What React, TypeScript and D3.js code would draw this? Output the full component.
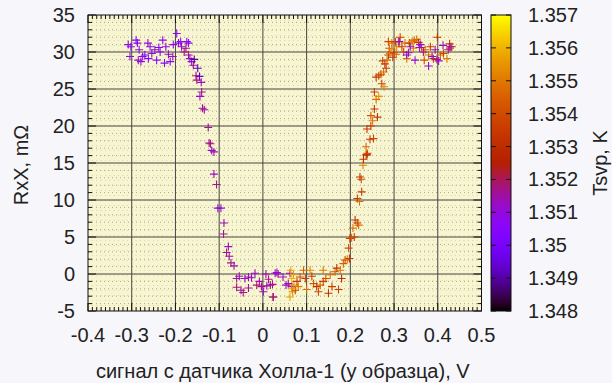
import React from "react";
import * as d3 from "d3";

const W = 612;
const H = 383;

// Each point: [hall sensor signal (V), RxX (mΩ), Tsvp (K)]
const downSweep: [number, number, number][] = [
  [-0.308, 31.0, 1.3508], [-0.302, 30.7, 1.3506], [-0.304, 29.4, 1.3510], [-0.29, 31.6, 1.3504],
  [-0.287, 31.2, 1.3507], [-0.283, 30.3, 1.3510], [-0.285, 28.9, 1.3512], [-0.279, 28.7, 1.3509],
  [-0.275, 29.4, 1.3506], [-0.27, 29.6, 1.3504], [-0.263, 31.2, 1.3511], [-0.258, 30.7, 1.3507],
  [-0.262, 29.1, 1.3505], [-0.254, 29.8, 1.3508], [-0.247, 30.3, 1.3512], [-0.243, 28.9, 1.3506],
  [-0.238, 30.6, 1.3503], [-0.235, 30.0, 1.3509], [-0.229, 31.6, 1.3507], [-0.225, 28.5, 1.3505],
  [-0.222, 30.7, 1.3510], [-0.216, 29.7, 1.3512], [-0.212, 28.7, 1.3506], [-0.206, 29.4, 1.3514],
  [-0.205, 31.0, 1.3508], [-0.197, 32.5, 1.3506], [-0.193, 31.2, 1.3504], [-0.188, 31.4, 1.3509],
  [-0.186, 30.7, 1.3511], [-0.18, 30.0, 1.3516], [-0.174, 31.4, 1.3507], [-0.17, 31.2, 1.3505],
  [-0.176, 30.5, 1.3518], [-0.17, 29.6, 1.3516], [-0.167, 29.1, 1.3512], [-0.163, 28.7, 1.3510],
  [-0.157, 29.0, 1.3490], [-0.159, 28.2, 1.3515], [-0.149, 27.8, 1.3492], [-0.153, 26.8, 1.3517],
  [-0.145, 26.7, 1.3494], [-0.151, 26.2, 1.3518], [-0.141, 25.9, 1.3512], [-0.14, 24.6, 1.3516],
  [-0.144, 24.0, 1.3513], [-0.138, 22.4, 1.3517], [-0.134, 22.2, 1.3514], [-0.125, 19.8, 1.3516],
  [-0.123, 17.7, 1.3515], [-0.12, 17.6, 1.3518], [-0.117, 16.7, 1.3512], [-0.112, 16.5, 1.3514],
  [-0.112, 13.5, 1.3513], [-0.106, 12.1, 1.3517], [-0.103, 8.9, 1.3510], [-0.096, 8.9, 1.3512],
  [-0.089, 6.9, 1.3514], [-0.09, 5.4, 1.3516], [-0.079, 3.7, 1.3513], [-0.083, 2.9, 1.3517],
  [-0.077, 2.4, 1.3515], [-0.073, 1.5, 1.3518], [-0.066, 1.1, 1.3514], [-0.06, -0.6, 1.3516],
  [-0.054, -0.3, 1.3513], [-0.06, -1.8, 1.3518], [-0.05, -2.2, 1.3515], [-0.045, -2.5, 1.3517],
  [-0.041, -0.6, 1.3512], [-0.033, -1.9, 1.3516], [-0.033, -0.4, 1.3514], [-0.026, -0.5, 1.3511],
  [-0.018, 0.1, 1.3513], [-0.014, -1.5, 1.3518], [-0.008, -1.0, 1.3515], [-0.003, -1.7, 1.3517],
  [0.001, -2.4, 1.3512], [0.007, 0.0, 1.3514], [0.013, -0.7, 1.3516], [0.017, -1.5, 1.3518],
  [0.009, -1.6, 1.3513], [0.023, -3.1, 1.3517], [0.028, 0.1, 1.3512], [0.035, 0.0, 1.3514],
  [0.022, -1.4, 1.3516], [0.032, 0.2, 1.3511], [0.024, -3.1, 1.3518], [0.046, -0.4, 1.3513],
  [0.053, -1.5, 1.3510], [0.058, -1.3, 1.3516], [0.062, 0.1, 1.3512], [0.066, -1.7, 1.3514],
];

const upSweep: [number, number, number][] = [
  [0.064, 0.5, 1.3558], [0.07, -0.1, 1.3556], [0.066, -0.6, 1.3560], [0.062, -3.1, 1.3557],
  [0.068, -2.4, 1.3552], [0.074, -2.2, 1.3538], [0.071, -1.5, 1.3555], [0.078, -1.0, 1.3534],
  [0.066, -2.0, 1.3556], [0.085, -0.4, 1.3540], [0.081, -1.7, 1.3550], [0.093, 0.5, 1.3545],
  [0.097, -0.6, 1.3535], [0.1, -2.1, 1.3548], [0.108, 0.5, 1.3552], [0.112, -0.3, 1.3536],
  [0.116, -1.3, 1.3542], [0.123, -1.7, 1.3533], [0.127, -2.4, 1.3538], [0.131, -1.5, 1.3546],
  [0.138, 0.5, 1.3550], [0.138, -1.0, 1.3534], [0.144, -0.6, 1.3540], [0.15, -2.6, 1.3532],
  [0.154, -0.1, 1.3548], [0.158, -1.7, 1.3536], [0.165, 0.3, 1.3544], [0.169, 0.8, 1.3533],
  [0.173, -2.1, 1.3537], [0.177, 0.5, 1.3549], [0.18, -0.6, 1.3531], [0.184, 1.4, 1.3545],
  [0.188, 1.9, 1.3538], [0.193, 2.0, 1.3550], [0.198, 2.1, 1.3534], [0.196, 3.5, 1.3541],
  [0.199, 4.8, 1.3533], [0.203, 4.9, 1.3546], [0.209, 5.0, 1.3536], [0.206, 6.2, 1.3549],
  [0.211, 7.3, 1.3532], [0.216, 6.9, 1.3538], [0.219, 6.6, 1.3547], [0.216, 10.2, 1.3534],
  [0.221, 9.8, 1.3548], [0.226, 11.1, 1.3536], [0.222, 13.1, 1.3533], [0.225, 12.8, 1.3540],
  [0.229, 14.7, 1.3552], [0.23, 15.5, 1.3531], [0.236, 16.1, 1.3537], [0.239, 16.3, 1.3544],
  [0.238, 16.1, 1.3530], [0.236, 17.2, 1.3546], [0.245, 18.2, 1.3534], [0.253, 18.3, 1.3538],
  [0.238, 19.6, 1.3533], [0.247, 20.0, 1.3536], [0.251, 20.7, 1.3549], [0.262, 21.2, 1.3534],
  [0.247, 21.4, 1.3542], [0.255, 22.3, 1.3532], [0.265, 24.0, 1.3555], [0.255, 24.6, 1.3536],
  [0.259, 23.6, 1.3548], [0.272, 25.7, 1.3537], [0.277, 25.3, 1.3552], [0.259, 26.6, 1.3533],
  [0.265, 26.8, 1.3540], [0.27, 27.0, 1.3536], [0.276, 27.3, 1.3548], [0.282, 27.8, 1.3534],
  [0.279, 28.4, 1.3531], [0.274, 28.8, 1.3537], [0.284, 28.9, 1.3545], [0.287, 29.6, 1.3533],
  [0.291, 29.8, 1.3550], [0.297, 29.3, 1.3536], [0.289, 30.5, 1.3542], [0.295, 30.4, 1.3552],
  [0.3, 29.9, 1.3535], [0.287, 31.4, 1.3538], [0.295, 31.2, 1.3548], [0.303, 31.4, 1.3533],
  [0.31, 31.4, 1.3540], [0.314, 32.0, 1.3536], [0.306, 30.7, 1.3552], [0.318, 30.7, 1.3534],
  [0.305, 29.7, 1.3546], [0.322, 30.0, 1.3538], [0.329, 29.1, 1.3550], [0.325, 31.2, 1.3549],
  [0.335, 31.2, 1.3536], [0.341, 31.4, 1.3552], [0.346, 31.6, 1.3543], [0.352, 31.7, 1.3547],
  [0.356, 31.3, 1.3535], [0.344, 30.5, 1.3550], [0.363, 30.6, 1.3538], [0.371, 30.3, 1.3545],
  [0.383, 30.7, 1.3534], [0.369, 28.9, 1.3540], [0.379, 29.6, 1.3548], [0.39, 29.1, 1.3536],
  [0.399, 32.0, 1.3532], [0.406, 29.6, 1.3546], [0.413, 29.8, 1.3538], [0.421, 29.1, 1.3550],
  [0.427, 31.1, 1.3535], [0.428, 30.5, 1.3542], [0.432, 30.7, 1.3533],
];

const returnPlateau: [number, number, number][] = [
  [0.312, 31.4, 1.3510], [0.337, 30.7, 1.3512], [0.333, 29.9, 1.3514], [0.329, 29.6, 1.3509],
  [0.348, 28.9, 1.3511], [0.358, 30.6, 1.3513], [0.367, 30.0, 1.3516], [0.379, 28.1, 1.3510],
  [0.387, 29.4, 1.3512], [0.394, 30.3, 1.3514], [0.398, 29.0, 1.3517], [0.402, 28.8, 1.3511],
  [0.412, 30.9, 1.3513], [0.424, 30.3, 1.3515], [0.428, 30.7, 1.3512], [0.36, 31.0, 1.3508],
];

const xTicks = [-0.4, -0.3, -0.2, -0.1, 0, 0.1, 0.2, 0.3, 0.4, 0.5];
const yTicks = [-5, 0, 5, 10, 15, 20, 25, 30, 35];
const cbTicks = [1.348, 1.349, 1.35, 1.351, 1.352, 1.353, 1.354, 1.355, 1.356, 1.357];

const plot = { left: 88, right: 481.5, top: 15, bottom: 311 };
const cbar = { left: 491, right: 511, top: 15, bottom: 311 };

const x = d3.scaleLinear().domain([-0.4, 0.5]).range([plot.left, plot.right]);
const y = d3.scaleLinear().domain([-5, 35]).range([plot.bottom, plot.top]);
const cb = d3.scaleLinear().domain([1.348, 1.357]).range([cbar.bottom, cbar.top]);
const norm = d3.scaleLinear().domain([1.348, 1.357]).range([0, 1]).clamp(true);

// gnuplot-style rgbformulae 7,5,15 palette
function palette(t: number): string {
  const r = Math.sqrt(t);
  const g = t * t * t;
  const b = Math.max(0, Math.sin(2 * Math.PI * t));
  return d3.rgb(r * 255, g * 255, b * 255).formatHex();
}

const FONT = "'Liberation Sans', Arial, sans-serif";
const TEXT = "#222";

export default function App() {
  const xMinor = d3.range(-40, 51).map((i) => i / 100);
  const yMinor = d3.range(-5, 36);
  const stops = d3.range(0, 51).map((i) => i / 50);
  const points = [...downSweep, ...upSweep, ...returnPlateau];

  return (
    <svg
      width={W}
      height={H}
      viewBox={`0 0 ${W} ${H}`}
      style={{ position: "absolute", left: 0, top: 0, display: "block" }}
      fontFamily={FONT}
    >
      <defs>
        <linearGradient id="cbGrad" x1="0" y1="1" x2="0" y2="0">
          {stops.map((s) => (
            <stop key={s} offset={s} stopColor={palette(s)} />
          ))}
        </linearGradient>
        <clipPath id="plotClip">
          <rect x={plot.left} y={plot.top} width={plot.right - plot.left} height={plot.bottom - plot.top} />
        </clipPath>
      </defs>
      <rect x={0} y={0} width={W} height={H} fill="#f7f7fb" />
      <rect
        x={plot.left}
        y={plot.top}
        width={plot.right - plot.left}
        height={plot.bottom - plot.top}
        fill="#f8f6d0"
      />

      {/* minor grid */}
      <g stroke="#8a8a7a" strokeWidth={1} strokeDasharray="1,3" opacity={0.7}>
        {yMinor.filter((v) => v % 5 !== 0).map((v) => (
          <line key={`ym${v}`} x1={plot.left} x2={plot.right} y1={y(v)} y2={y(v)} />
        ))}
      </g>
      <g stroke="#9a9a8a" strokeWidth={1} strokeDasharray="1,4" opacity={0.35}>
        {xMinor.filter((v) => Math.round(v * 100) % 10 !== 0).map((v) => (
          <line key={`xm${v}`} y1={plot.top} y2={plot.bottom} x1={x(v)} x2={x(v)} />
        ))}
      </g>

      {/* major grid */}
      <g stroke="#444" strokeWidth={1}>
        {xTicks.slice(1, -1).map((v) => (
          <line key={`xg${v}`} x1={x(v)} x2={x(v)} y1={plot.top} y2={plot.bottom} />
        ))}
        {yTicks.slice(1, -1).map((v) => (
          <line key={`yg${v}`} y1={y(v)} y2={y(v)} x1={plot.left} x2={plot.right} />
        ))}
      </g>

      {/* tick marks */}
      <g stroke="#111" strokeWidth={1}>
        {xMinor.map((v) => {
          const major = Math.round(v * 100) % 10 === 0;
          const len = major ? 8 : 4;
          const px = x(v);
          return (
            <g key={`xt${v}`}>
              <line x1={px} x2={px} y1={plot.bottom} y2={plot.bottom - len} />
              <line x1={px} x2={px} y1={plot.top} y2={plot.top + len} />
            </g>
          );
        })}
        {yMinor.map((v) => {
          const major = v % 5 === 0;
          const len = major ? 8 : 4;
          const py = y(v);
          return (
            <g key={`yt${v}`}>
              <line x1={plot.left} x2={plot.left + len} y1={py} y2={py} />
              <line x1={plot.right} x2={plot.right - len} y1={py} y2={py} />
            </g>
          );
        })}
      </g>

      {/* data */}
      <g clipPath="url(#plotClip)" fill="none" strokeWidth={1.1}>
        {points.map(([sx, r, t], i) => {
          const px = x(sx);
          const py = y(r);
          return (
            <path
              key={i}
              d={`M${px - 4},${py}h8M${px},${py - 4}v8`}
              stroke={palette(norm(t))}
            />
          );
        })}
      </g>

      {/* border */}
      <rect
        x={plot.left}
        y={plot.top}
        width={plot.right - plot.left}
        height={plot.bottom - plot.top}
        fill="none"
        stroke="#111"
        strokeWidth={1}
      />

      {/* axis labels */}
      <g fill={TEXT} fontSize={20}>
        {yTicks.map((v) => (
          <text key={`yl${v}`} x={75} y={y(v)} dy="0.35em" textAnchor="end">
            {String(v)}
          </text>
        ))}
        {xTicks.map((v) => (
          <text key={`xl${v}`} x={x(v)} y={342} textAnchor="middle">
            {String(v)}
          </text>
        ))}
        <text x={(plot.left + plot.right) / 2 - 2} y={378} textAnchor="middle">
          сигнал с датчика Холла-1 (у образца), V
        </text>
        <text transform={`translate(28,${(plot.top + plot.bottom) / 2 + 2}) rotate(-90)`} textAnchor="middle">
          RxX, mΩ
        </text>
      </g>

      {/* colour box */}
      <rect
        x={cbar.left}
        y={cbar.top}
        width={cbar.right - cbar.left}
        height={cbar.bottom - cbar.top}
        fill="url(#cbGrad)"
        stroke="#111"
        strokeWidth={1}
      />
      <g stroke="#111" strokeWidth={1}>
        {cbTicks.map((v) => (
          <g key={`cbt${v}`}>
            <line x1={cbar.left} x2={cbar.left + 5} y1={cb(v)} y2={cb(v)} />
            <line x1={cbar.right} x2={cbar.right - 5} y1={cb(v)} y2={cb(v)} />
          </g>
        ))}
      </g>
      <g fill={TEXT} fontSize={20}>
        {cbTicks.map((v) => (
          <text key={`cbl${v}`} x={528} y={cb(v)} dy="0.35em">
            {String(v)}
          </text>
        ))}
        <text transform={`translate(607,${(cbar.top + cbar.bottom) / 2}) rotate(-90)`} textAnchor="middle">
          Tsvp, K
        </text>
      </g>
    </svg>
  );
}
